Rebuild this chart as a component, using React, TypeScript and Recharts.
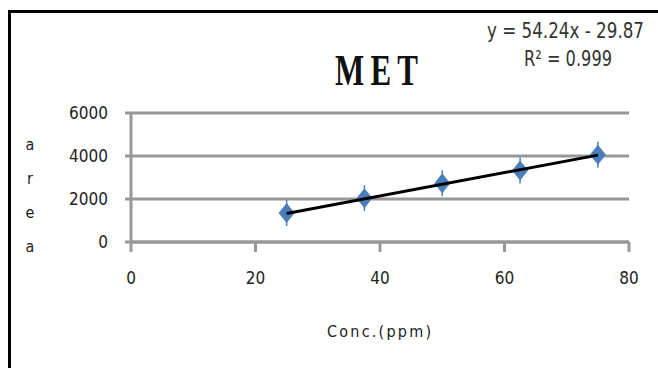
import React from "react";
import {
  ScatterChart,
  Scatter,
  XAxis,
  YAxis,
  CartesianGrid,
  Customized,
} from "recharts";

// calibration points
const concPpm = [25, 37.5, 50, 62.5, 75];
const peakArea = [1345, 2040, 2730, 3330, 4060];

// trendline end points (from y = 54.24x - 29.87 as drawn)
const trendConc = [25, 75];
const trendArea = [1330, 4040];

const xTicks = [0, 20, 40, 60, 80];
const yTicks = [0, 2000, 4000, 6000];
const yLabelLetters = ["a", "r", "e", "a"];

const TITLE = "MET";
const EQUATION = "y = 54.24x - 29.87";
const R_SQUARED = "R² = 0.999";
const X_LABEL = "Conc.(ppm)";

const points = concPpm.map((x, i) => ({ x, y: peakArea[i] }));
const trend = trendConc.map((x, i) => ({ x, y: trendArea[i] }));

const SANS = "'DejaVu Sans Condensed', 'DejaVu Sans', sans-serif";
const GRID = "#989898";
const MARKER = "#4a7ebb";

function DiamondMarker(props: any) {
  const { cx, cy } = props;
  if (cx == null || cy == null) return <g />;
  return (
    <g>
      <line x1={cx} x2={cx} y1={cy - 13} y2={cy + 13} stroke={MARKER} strokeWidth={1.5} />
      <polygon
        points={`${cx},${cy - 10} ${cx + 8},${cy} ${cx},${cy + 10} ${cx - 8},${cy}`}
        fill={MARKER}
      />
    </g>
  );
}

function Annotations() {
  // chart sits 11px right / 13px down from the page origin
  return (
    <g>
      <text
        transform="translate(324,72) scale(1,1.45)"
        fontFamily="'Liberation Serif', serif"
        fontSize={31}
        fontWeight="bold"
        fill="#111"
        textLength={83}
        lengthAdjust="spacing"
      >
        {TITLE}
      </text>
      <text
        x={476}
        y={25}
        fontFamily={SANS}
        fontSize={21}
        fill="#333"
        textLength={157}
        lengthAdjust="spacingAndGlyphs"
      >
        {EQUATION}
      </text>
      <text
        x={513}
        y={53}
        fontFamily={SANS}
        fontSize={21}
        fill="#333"
        textLength={88}
        lengthAdjust="spacingAndGlyphs"
      >
        {R_SQUARED}
      </text>
      {yLabelLetters.map((ch, i) => (
        <text
          key={i}
          x={19}
          y={132 + i * 34 + 5}
          textAnchor="middle"
          fontFamily={SANS}
          fontSize={16}
          fill="#222"
        >
          {ch}
        </text>
      ))}
      <text
        x={316}
        y={324}
        fontFamily={SANS}
        fontSize={16}
        fill="#222"
        textLength={104}
        lengthAdjust="spacing"
      >
        {X_LABEL}
      </text>
    </g>
  );
}

export default function App() {
  return (
    <div
      style={{
        position: "absolute",
        top: 10,
        left: 8,
        width: 647,
        height: 355,
        borderLeft: "3px solid #000",
        borderTop: "3px solid #000",
        background: "#fff",
      }}
    >
      <ScatterChart
        width={647}
        height={355}
        margin={{ top: 100, right: 29, bottom: 96, left: 40 }}
      >
        <CartesianGrid horizontal vertical={false} stroke={GRID} strokeWidth={3} />
        <XAxis
          type="number"
          dataKey="x"
          domain={[0, 80]}
          ticks={xTicks}
          height={30}
          axisLine={{ stroke: GRID, strokeWidth: 3 }}
          tickLine={{ stroke: GRID, strokeWidth: 3 }}
          tickSize={10}
          tickMargin={20}
          tick={{ fill: "#222", fontSize: 17, fontFamily: SANS }}
        />
        <YAxis
          type="number"
          dataKey="y"
          domain={[0, 6000]}
          ticks={yTicks}
          width={80}
          axisLine={{ stroke: GRID, strokeWidth: 3 }}
          tickLine={{ stroke: GRID, strokeWidth: 3 }}
          tickSize={6}
          tickMargin={17}
          tick={{ fill: "#222", fontSize: 17, fontFamily: SANS }}
        />
        <Scatter
          data={points}
          shape={DiamondMarker}
          isAnimationActive={false}
        />
        <Scatter
          data={trend}
          line={{ stroke: "#000", strokeWidth: 3 }}
          shape={() => <g />}
          isAnimationActive={false}
        />
        <Customized component={Annotations} />
      </ScatterChart>
    </div>
  );
}
